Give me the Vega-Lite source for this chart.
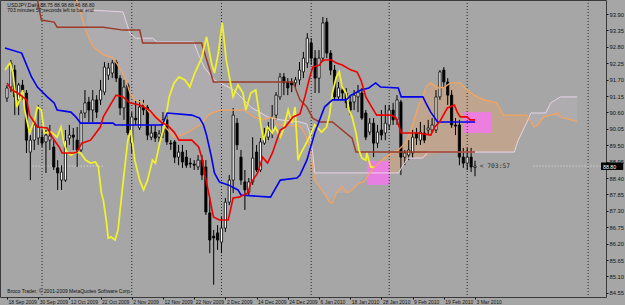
{
  "$schema": "https://vega.github.io/schema/vega-lite/v6.json",
  "width": 606,
  "height": 297,
  "autosize": {"type": "none"},
  "padding": {"left": 0, "top": 0, "right": 19, "bottom": 8},
  "background": "#a6a6a6",
  "config": {
    "view": {"fill": "#a6a6a6", "stroke": "#3a3a3a", "strokeWidth": 1},
    "axis": {"grid": false, "domain": false, "title": null, "labelFont": "Liberation Sans", "labelColor": "#151515", "tickColor": "#151515", "tickSize": 2, "labelOverlap": false, "labelBound": false, "labelFlush": false},
    "axisY": {"labelOverlap": false, "labelFontSize": 5.8, "labelPadding": 1},
    "axisX": {"labelOverlap": false, "labelFontSize": 5, "labelPadding": 0}
  },
  "datasets": {
    "candles": [
      {"i":0,"o":91.08,"h":91.52,"l":90.95,"c":91.42},{"i":1,"o":91.45,"h":92.36,"l":91.28,"c":92.26},{"i":2,"o":92.02,"h":92.19,"l":90.51,"c":91.12},{"i":3,"o":91.02,"h":91.59,"l":90.51,"c":91.52},{"i":4,"o":91.52,"h":91.69,"l":91.02,"c":91.28},
      {"i":5,"o":91.25,"h":91.35,"l":89.24,"c":89.67},{"i":6,"o":89.27,"h":89.84,"l":88.33,"c":89.67},{"i":7,"o":89.67,"h":90.35,"l":89.34,"c":90.18},{"i":8,"o":89.74,"h":90.85,"l":89.51,"c":90.11},{"i":9,"o":89.77,"h":90.01,"l":89.44,"c":89.57},
      {"i":10,"o":89.61,"h":90.01,"l":88.57,"c":89.84},{"i":11,"o":89.67,"h":90.18,"l":89.34,"c":89.81},{"i":12,"o":89.44,"h":89.67,"l":88.67,"c":88.77},{"i":13,"o":88.74,"h":89.0,"l":88.0,"c":88.57},{"i":14,"o":88.33,"h":88.83,"l":88.0,"c":88.6},
      {"i":15,"o":88.33,"h":90.01,"l":88.27,"c":89.67},{"i":16,"o":89.74,"h":90.18,"l":89.51,"c":89.84},{"i":17,"o":89.84,"h":90.08,"l":89.34,"c":89.77},{"i":18,"o":89.67,"h":90.11,"l":88.77,"c":89.34},{"i":19,"o":89.34,"h":90.68,"l":89.27,"c":90.58},
      {"i":20,"o":90.58,"h":91.35,"l":90.41,"c":90.92},{"i":21,"o":90.95,"h":91.12,"l":90.28,"c":90.68},{"i":22,"o":90.68,"h":91.35,"l":90.28,"c":91.02},{"i":23,"o":91.02,"h":91.18,"l":90.41,"c":90.61},{"i":24,"o":91.02,"h":91.69,"l":90.85,"c":91.35},
      {"i":25,"o":91.28,"h":92.29,"l":91.18,"c":92.12},{"i":26,"o":91.85,"h":92.26,"l":91.69,"c":92.09},{"i":27,"o":91.92,"h":92.36,"l":91.75,"c":92.26},{"i":28,"o":92.29,"h":92.36,"l":91.62,"c":91.75},{"i":29,"o":91.75,"h":91.85,"l":90.51,"c":90.75},
      {"i":30,"o":90.75,"h":91.69,"l":90.35,"c":91.45},{"i":31,"o":91.52,"h":91.59,"l":89.84,"c":89.91},{"i":32,"o":89.57,"h":90.61,"l":89.24,"c":90.45},{"i":33,"o":90.41,"h":91.02,"l":90.18,"c":90.35},{"i":34,"o":90.08,"h":91.02,"l":90.01,"c":90.78},
      {"i":35,"o":90.85,"h":91.02,"l":90.51,"c":90.68},{"i":36,"o":90.78,"h":90.85,"l":89.67,"c":89.84},{"i":37,"o":89.77,"h":90.18,"l":89.67,"c":89.91},{"i":38,"o":89.94,"h":90.18,"l":89.61,"c":89.74},{"i":39,"o":89.77,"h":90.01,"l":89.61,"c":89.88},
      {"i":40,"o":89.91,"h":90.61,"l":89.74,"c":90.35},{"i":41,"o":90.35,"h":90.51,"l":89.51,"c":89.61},{"i":42,"o":89.57,"h":89.67,"l":89.34,"c":89.54},{"i":43,"o":89.61,"h":89.67,"l":88.9,"c":89.1},{"i":44,"o":89.1,"h":89.51,"l":88.83,"c":89.27},
      {"i":45,"o":89.27,"h":89.51,"l":88.74,"c":88.94},{"i":46,"o":89.1,"h":89.34,"l":88.74,"c":88.83},{"i":47,"o":88.9,"h":89.07,"l":88.74,"c":88.87},{"i":48,"o":88.87,"h":89.0,"l":88.67,"c":88.83},{"i":49,"o":88.77,"h":89.17,"l":88.67,"c":89.0},
      {"i":50,"o":89.0,"h":89.17,"l":88.33,"c":88.5},{"i":51,"o":88.77,"h":89.0,"l":87.16,"c":87.26},{"i":52,"o":87.23,"h":87.76,"l":85.88,"c":86.32},{"i":53,"o":86.45,"h":86.66,"l":84.82,"c":86.39},{"i":54,"o":86.56,"h":86.82,"l":85.99,"c":86.32},
      {"i":55,"o":86.25,"h":87.09,"l":85.88,"c":86.72},{"i":56,"o":86.72,"h":87.73,"l":86.59,"c":87.59},{"i":57,"o":87.59,"h":88.5,"l":87.49,"c":88.33},{"i":58,"o":88.33,"h":90.75,"l":87.9,"c":90.51},{"i":59,"o":90.24,"h":90.41,"l":89.34,"c":89.51},
      {"i":60,"o":89.1,"h":89.34,"l":88.17,"c":88.33},{"i":61,"o":88.27,"h":88.67,"l":87.33,"c":88.0},{"i":62,"o":87.93,"h":88.4,"l":87.83,"c":88.27},{"i":63,"o":88.27,"h":89.77,"l":88.17,"c":89.07},{"i":64,"o":89.27,"h":89.51,"l":88.6,"c":88.67},
      {"i":65,"o":88.67,"h":89.74,"l":88.6,"c":89.61},{"i":66,"o":89.57,"h":90.08,"l":89.51,"c":89.84},{"i":67,"o":89.77,"h":90.28,"l":89.67,"c":90.01},{"i":68,"o":89.91,"h":90.85,"l":89.74,"c":90.45},{"i":69,"o":90.51,"h":91.28,"l":90.35,"c":91.18},
      {"i":70,"o":91.12,"h":91.92,"l":91.02,"c":91.79},{"i":71,"o":91.79,"h":91.92,"l":91.18,"c":91.59},{"i":72,"o":91.62,"h":91.75,"l":91.18,"c":91.42},{"i":73,"o":91.62,"h":91.75,"l":91.28,"c":91.52},{"i":74,"o":91.59,"h":91.79,"l":91.45,"c":91.69},
      {"i":75,"o":91.69,"h":92.29,"l":91.52,"c":92.02},{"i":76,"o":91.96,"h":92.63,"l":91.75,"c":92.42},{"i":77,"o":92.26,"h":93.26,"l":92.09,"c":93.09},{"i":78,"o":92.93,"h":93.09,"l":92.19,"c":92.42},{"i":79,"o":92.42,"h":92.69,"l":91.25,"c":91.75},
      {"i":80,"o":91.75,"h":92.69,"l":91.25,"c":92.42},{"i":81,"o":92.42,"h":93.8,"l":92.29,"c":93.6},{"i":82,"o":93.63,"h":93.77,"l":92.42,"c":92.59},{"i":83,"o":92.59,"h":92.69,"l":91.85,"c":92.02},{"i":84,"o":92.02,"h":92.19,"l":91.02,"c":91.12},
      {"i":85,"o":91.12,"h":91.62,"l":91.02,"c":91.42},{"i":86,"o":91.35,"h":91.52,"l":91.02,"c":91.25},{"i":87,"o":91.25,"h":91.42,"l":90.75,"c":90.92},{"i":88,"o":90.95,"h":91.18,"l":90.51,"c":90.68},{"i":89,"o":90.95,"h":91.35,"l":90.68,"c":91.18},
      {"i":90,"o":91.12,"h":91.52,"l":90.61,"c":91.28},{"i":91,"o":91.25,"h":91.42,"l":90.35,"c":90.41},{"i":92,"o":90.58,"h":90.68,"l":89.67,"c":89.77},{"i":93,"o":89.94,"h":90.41,"l":89.84,"c":90.24},{"i":94,"o":90.24,"h":90.41,"l":89.1,"c":89.57},
      {"i":95,"o":89.57,"h":90.18,"l":89.41,"c":89.94},{"i":96,"o":90.01,"h":90.68,"l":89.67,"c":89.84},{"i":97,"o":89.91,"h":90.85,"l":89.67,"c":90.24},{"i":98,"o":90.18,"h":90.85,"l":90.01,"c":90.68},{"i":99,"o":90.68,"h":90.92,"l":90.18,"c":90.35},
      {"i":100,"o":90.35,"h":91.18,"l":90.18,"c":91.02},{"i":101,"o":90.95,"h":91.02,"l":88.5,"c":89.1},{"i":102,"o":89.1,"h":89.34,"l":88.83,"c":89.24},{"i":103,"o":89.17,"h":89.67,"l":89.0,"c":89.34},{"i":104,"o":89.24,"h":90.01,"l":89.07,"c":89.77},
      {"i":105,"o":89.91,"h":90.08,"l":89.51,"c":89.74},{"i":106,"o":89.67,"h":90.28,"l":89.51,"c":89.94},{"i":107,"o":89.91,"h":90.18,"l":89.57,"c":89.67},{"i":108,"o":90.01,"h":90.35,"l":89.84,"c":90.08},{"i":109,"o":90.01,"h":90.41,"l":89.91,"c":90.18},
      {"i":110,"o":90.01,"h":91.35,"l":89.91,"c":91.12},{"i":111,"o":91.12,"h":92.02,"l":91.02,"c":91.96},{"i":112,"o":92.02,"h":92.12,"l":91.42,"c":91.62},{"i":113,"o":91.62,"h":91.75,"l":90.85,"c":91.18},{"i":114,"o":91.18,"h":91.35,"l":90.08,"c":90.18},
      {"i":115,"o":90.18,"h":90.41,"l":89.84,"c":90.14},{"i":116,"o":90.18,"h":90.35,"l":88.83,"c":89.1},{"i":117,"o":89.1,"h":89.41,"l":88.74,"c":88.9},{"i":118,"o":88.9,"h":89.41,"l":88.67,"c":89.1},{"i":119,"o":89.1,"h":89.41,"l":88.6,"c":88.77},
      {"i":120,"o":88.75,"h":88.98,"l":88.46,"c":88.8}
    ],
    "kijun": [
      {"i":-0.5,"v":92.76},{"i":3.78,"v":92.59},{"i":6.3,"v":91.79},{"i":7.81,"v":91.45},{"i":10.34,"v":91.12},{"i":12.1,"v":90.92},{"i":12.86,"v":90.68},{"i":16.39,"v":90.61},{"i":17.65,"v":90.45},{"i":18.9,"v":90.24},{"i":27.22,"v":90.24},{"i":27.73,"v":90.18},{"i":39.83,"v":90.18},{"i":41.09,"v":90.58},{"i":47.39,"v":90.51},{"i":49.4,"v":90.41},{"i":50.4,"v":90.18},{"i":51.17,"v":89.84},{"i":52.43,"v":89.1},{"i":53.19,"v":88.57},{"i":54.45,"v":88.27},{"i":56.72,"v":88.17},{"i":59.24,"v":88.0},{"i":59.99,"v":87.83},{"i":67.56,"v":87.76},{"i":70.08,"v":88.33},{"i":74.36,"v":88.4},{"i":75.12,"v":88.5},{"i":76.89,"v":89.0},{"i":78.91,"v":89.91},{"i":81.42,"v":90.78},{"i":83.44,"v":91.02},{"i":86.97,"v":91.02},{"i":88.23,"v":91.18},{"i":90.75,"v":91.35},{"i":92.76,"v":91.42},{"i":94.53,"v":91.59},{"i":95.79,"v":91.45},{"i":100.33,"v":91.42},{"i":101.08,"v":91.12},{"i":106.63,"v":91.12},{"i":107.39,"v":90.92},{"i":108.65,"v":90.61},{"i":110.41,"v":90.28},{"i":120,"v":90.28}
    ],
    "tenkan": [
      {"i":0,"v":91.59},{"i":1.26,"v":91.35},{"i":2.77,"v":91.25},{"i":5.04,"v":91.02},{"i":5.8,"v":90.51},{"i":7.81,"v":90.11},{"i":10.34,"v":90.08},{"i":11.6,"v":89.77},{"i":13.36,"v":89.44},{"i":14.12,"v":89.24},{"i":17.14,"v":89.24},{"i":17.9,"v":89.27},{"i":19.16,"v":89.57},{"i":21.43,"v":89.67},{"i":23.95,"v":90.11},{"i":24.7,"v":90.45},{"i":27.98,"v":91.18},{"i":29.75,"v":91.12},{"i":31.5,"v":90.92},{"i":34.03,"v":90.85},{"i":36.55,"v":90.68},{"i":38.06,"v":90.45},{"i":39.83,"v":90.24},{"i":41.09,"v":90.18},{"i":42.85,"v":89.94},{"i":44.11,"v":89.67},{"i":47.39,"v":89.67},{"i":49.15,"v":89.44},{"i":49.91,"v":89.1},{"i":50.67,"v":88.57},{"i":51.93,"v":87.76},{"i":52.94,"v":87.09},{"i":54.45,"v":86.99},{"i":56.72,"v":86.99},{"i":57.98,"v":87.73},{"i":59.49,"v":87.76},{"i":61.76,"v":87.9},{"i":62.52,"v":88.23},{"i":64.28,"v":88.57},{"i":65.54,"v":89.1},{"i":66.8,"v":88.9},{"i":68.06,"v":89.24},{"i":70.08,"v":90.01},{"i":71.34,"v":90.11},{"i":73.35,"v":90.45},{"i":75.12,"v":90.55},{"i":76.38,"v":91.12},{"i":77.64,"v":91.79},{"i":78.4,"v":92.12},{"i":80.16,"v":92.19},{"i":80.92,"v":92.36},{"i":83.19,"v":92.36},{"i":84.45,"v":92.26},{"i":85.96,"v":92.19},{"i":88.23,"v":92.02},{"i":89.74,"v":91.96},{"i":90.75,"v":91.69},{"i":92.01,"v":91.12},{"i":93.52,"v":90.78},{"i":94.78,"v":90.51},{"i":98.56,"v":90.51},{"i":99.8,"v":90.41},{"i":101.08,"v":89.91},{"i":105.37,"v":89.91},{"i":108.65,"v":89.84},{"i":109.66,"v":90.11},{"i":110.92,"v":90.28},{"i":112.93,"v":90.75},{"i":114.7,"v":90.85},{"i":115.45,"v":90.61},{"i":116.2,"v":90.45},{"i":117.97,"v":90.45},{"i":118.73,"v":90.35},{"i":120,"v":90.35}
    ],
    "chikou": [
      {"i":-0.5,"v":92.02},{"i":0.76,"v":92.26},{"i":1.51,"v":91.96},{"i":2.52,"v":90.78},{"i":3.28,"v":91.02},{"i":4.03,"v":91.35},{"i":4.54,"v":90.68},{"i":5.8,"v":89.91},{"i":7.06,"v":90.35},{"i":7.81,"v":90.78},{"i":8.82,"v":90.68},{"i":9.58,"v":89.91},{"i":11.34,"v":89.94},{"i":12.86,"v":89.77},{"i":13.86,"v":90.11},{"i":14.62,"v":89.57},{"i":15.38,"v":89.27},{"i":16.39,"v":89.17},{"i":17.65,"v":89.27},{"i":18.9,"v":89.24},{"i":20.17,"v":89.0},{"i":21.43,"v":88.9},{"i":22.69,"v":88.94},{"i":23.44,"v":88.77},{"i":24.2,"v":87.9},{"i":24.7,"v":87.66},{"i":25.46,"v":86.99},{"i":25.96,"v":86.39},{"i":26.72,"v":86.42},{"i":27.73,"v":86.32},{"i":28.48,"v":86.66},{"i":29.75,"v":88.23},{"i":31.0,"v":89.67},{"i":31.76,"v":90.01},{"i":32.77,"v":89.0},{"i":34.03,"v":88.33},{"i":35.04,"v":88.0},{"i":36.05,"v":88.33},{"i":37.31,"v":89.0},{"i":38.06,"v":88.9},{"i":39.32,"v":89.67},{"i":40.33,"v":90.11},{"i":41.59,"v":91.12},{"i":42.85,"v":91.59},{"i":44.11,"v":91.79},{"i":45.63,"v":91.69},{"i":46.89,"v":91.45},{"i":48.15,"v":91.92},{"i":49.91,"v":92.42},{"i":51.17,"v":93.13},{"i":52.43,"v":92.26},{"i":53.19,"v":91.92},{"i":54.2,"v":92.59},{"i":55.2,"v":93.6},{"i":56.22,"v":92.36},{"i":57.98,"v":91.12},{"i":59.24,"v":91.52},{"i":60.5,"v":91.25},{"i":61.25,"v":90.68},{"i":62.52,"v":91.25},{"i":63.78,"v":91.35},{"i":65.04,"v":90.24},{"i":65.79,"v":89.67},{"i":66.8,"v":90.11},{"i":68.06,"v":89.91},{"i":68.82,"v":90.11},{"i":70.08,"v":89.77},{"i":70.83,"v":90.01},{"i":72.09,"v":90.68},{"i":73.1,"v":90.24},{"i":73.86,"v":90.78},{"i":74.62,"v":89.0},{"i":75.12,"v":89.17},{"i":77.14,"v":89.67},{"i":78.15,"v":89.94},{"i":78.91,"v":90.18},{"i":79.66,"v":90.08},{"i":80.67,"v":89.94},{"i":81.92,"v":90.11},{"i":82.68,"v":90.51},{"i":83.44,"v":91.25},{"i":84.45,"v":91.79},{"i":85.2,"v":91.96},{"i":85.96,"v":91.45},{"i":86.97,"v":91.25},{"i":87.72,"v":90.68},{"i":88.48,"v":90.45},{"i":89.49,"v":89.91},{"i":90.24,"v":89.34},{"i":91.0,"v":89.07},{"i":92.01,"v":89.0},{"i":92.26,"v":89.24},{"i":93.27,"v":88.77},{"i":94.03,"v":88.77}
    ],
    "spanA": [
      {"i":15.9,"v":94.71},{"i":17.9,"v":94.37},{"i":20.42,"v":93.26},{"i":22.18,"v":92.79},{"i":24.7,"v":92.53},{"i":27.22,"v":92.42},{"i":29.24,"v":92.02},{"i":30.5,"v":91.69},{"i":31.5,"v":91.25},{"i":32.77,"v":91.02},{"i":34.79,"v":90.92},{"i":36.55,"v":90.58},{"i":39.07,"v":90.41},{"i":40.58,"v":90.11},{"i":42.85,"v":89.77},{"i":44.87,"v":89.84},{"i":47.39,"v":90.01},{"i":49.91,"v":90.21},{"i":51.67,"v":90.51},{"i":53.19,"v":90.61},{"i":54.95,"v":90.68},{"i":60.75,"v":90.68},{"i":63.27,"v":90.45},{"i":65.54,"v":90.35},{"i":67.05,"v":90.41},{"i":68.31,"v":90.45},{"i":69.32,"v":90.18},{"i":75.12,"v":90.14},{"i":76.38,"v":89.91},{"i":77.64,"v":89.44},{"i":78.4,"v":88.77},{"i":78.91,"v":88.33},{"i":80.16,"v":88.1},{"i":81.92,"v":87.76},{"i":82.68,"v":87.59},{"i":83.44,"v":87.56},{"i":84.45,"v":87.9},{"i":85.96,"v":88.1},{"i":87.22,"v":87.9},{"i":88.48,"v":88.0},{"i":90.24,"v":88.23},{"i":91.5,"v":88.27},{"i":93.52,"v":88.67},{"i":95.29,"v":88.9},{"i":97.05,"v":89.1},{"i":98.56,"v":89.24},{"i":100.33,"v":89.34},{"i":102.09,"v":89.57},{"i":103.6,"v":90.01},{"i":105.37,"v":90.78},{"i":106.63,"v":91.12},{"i":107.39,"v":91.45},{"i":108.65,"v":91.59},{"i":110.41,"v":91.42},{"i":112.18,"v":91.45},{"i":113.69,"v":91.59},{"i":116.2,"v":91.59},{"i":117.97,"v":91.35},{"i":119.74,"v":91.18},{"i":122.26,"v":91.02},{"i":125.53,"v":90.92},{"i":126.29,"v":90.75},{"i":127.3,"v":90.51},{"i":133.1,"v":90.51},{"i":133.85,"v":90.41},{"i":135.11,"v":90.11},{"i":136.12,"v":90.18},{"i":137.64,"v":90.45},{"i":139.4,"v":90.51},{"i":141.16,"v":90.58},{"i":142.42,"v":90.41},{"i":143.93,"v":90.38},{"i":146.2,"v":90.28}
    ],
    "spanB": [
      {"i":17.9,"v":94.04},{"i":20.42,"v":94.04},{"i":29.75,"v":93.97},{"i":31.5,"v":93.26},{"i":33.02,"v":93.09},{"i":37.31,"v":93.09},{"i":38.57,"v":92.96},{"i":47.89,"v":92.96},{"i":49.15,"v":92.53},{"i":50.67,"v":92.09},{"i":53.19,"v":91.69},{"i":58.23,"v":91.35},{"i":62.52,"v":90.78},{"i":66.8,"v":90.45},{"i":70.08,"v":90.35},{"i":75.12,"v":90.28},{"i":76.89,"v":90.21},{"i":77.64,"v":89.91},{"i":78.4,"v":89.24},{"i":78.91,"v":88.57},{"i":100.33,"v":88.57},{"i":101.58,"v":88.83},{"i":102.85,"v":89.07},{"i":106.63,"v":89.07},{"i":107.9,"v":89.27},{"i":130.07,"v":89.27},{"i":131.08,"v":89.67},{"i":132.34,"v":90.01},{"i":133.6,"v":90.35},{"i":134.36,"v":90.58},{"i":138.14,"v":90.58},{"i":139.4,"v":90.92},{"i":140.66,"v":91.02},{"i":141.92,"v":91.12},{"i":146.2,"v":91.12}
    ],
    "brown": [
      {"i":7.31,"v":94.71},{"i":8.82,"v":93.7},{"i":12.1,"v":93.63},{"i":12.86,"v":93.46},{"i":24.7,"v":93.46},{"i":29.75,"v":93.36},{"i":34.03,"v":93.36},{"i":34.79,"v":92.93},{"i":49.91,"v":92.93},{"i":52.94,"v":91.62},{"i":73.35,"v":91.62},{"i":75.12,"v":91.02},{"i":76.89,"v":90.78},{"i":78.4,"v":90.41},{"i":80.16,"v":90.28},{"i":83.44,"v":90.28},{"i":88.48,"v":89.74},{"i":89.49,"v":89.27},{"i":120,"v":89.27}
    ],
    "cloud": [
      {"i":20.42,"a":93.26,"b":94.04,"seg":1,"kind":"bear"},{"i":22.18,"a":92.79,"b":94.04,"seg":1,"kind":"bear"},{"i":24.7,"a":92.53,"b":94.0,"seg":1,"kind":"bear"},{"i":27.22,"a":92.42,"b":93.97,"seg":1,"kind":"bear"},{"i":29.75,"a":91.85,"b":93.97,"seg":1,"kind":"bear"},{"i":31.5,"a":91.25,"b":93.26,"seg":1,"kind":"bear"},{"i":33.02,"a":91.02,"b":93.09,"seg":1,"kind":"bear"},{"i":34.79,"a":90.92,"b":93.09,"seg":1,"kind":"bear"},{"i":36.55,"a":90.58,"b":93.09,"seg":1,"kind":"bear"},{"i":38.57,"a":90.45,"b":92.96,"seg":1,"kind":"bear"},{"i":40.58,"a":90.11,"b":92.96,"seg":1,"kind":"bear"},{"i":42.85,"a":89.77,"b":92.96,"seg":1,"kind":"bear"},{"i":44.87,"a":89.84,"b":92.96,"seg":1,"kind":"bear"},{"i":47.89,"a":90.08,"b":92.96,"seg":1,"kind":"bear"},{"i":49.91,"a":90.21,"b":92.29,"seg":1,"kind":"bear"},{"i":51.67,"a":90.51,"b":91.99,"seg":1,"kind":"bear"},{"i":53.19,"a":90.61,"b":91.69,"seg":1,"kind":"bear"},{"i":54.95,"a":90.68,"b":91.59,"seg":1,"kind":"bear"},{"i":58.23,"a":90.68,"b":91.35,"seg":1,"kind":"bear"},{"i":60.75,"a":90.68,"b":91.02,"seg":1,"kind":"bear"},{"i":62.52,"a":90.58,"b":90.78,"seg":1,"kind":"bear"},{"i":65.54,"a":90.35,"b":90.58,"seg":1,"kind":"bear"},{"i":68.31,"a":90.45,"b":90.41,"seg":1,"kind":"bear"},{"i":70.08,"a":90.18,"b":90.35,"seg":1,"kind":"bear"},{"i":75.12,"a":90.14,"b":90.28,"seg":1,"kind":"bear"},{"i":76.89,"a":89.98,"b":90.21,"seg":1,"kind":"bear"},{"i":77.64,"a":89.44,"b":89.91,"seg":1,"kind":"bear"},{"i":78.4,"a":88.77,"b":89.24,"seg":1,"kind":"bear"},{"i":78.91,"a":88.33,"b":88.57,"seg":1,"kind":"bear"},{"i":80.16,"a":88.1,"b":88.57,"seg":1,"kind":"bear"},{"i":82.68,"a":87.59,"b":88.57,"seg":1,"kind":"bear"},{"i":84.45,"a":87.9,"b":88.57,"seg":1,"kind":"bear"},{"i":87.22,"a":87.9,"b":88.57,"seg":1,"kind":"bear"},{"i":90.24,"a":88.23,"b":88.57,"seg":1,"kind":"bear"},{"i":93.02,"a":88.6,"b":88.57,"seg":1,"kind":"bear"},
      {"i":93.02,"a":88.6,"b":88.57,"seg":2,"kind":"bull"},{"i":95.29,"a":88.9,"b":88.57,"seg":2,"kind":"bull"},{"i":98.56,"a":89.24,"b":88.57,"seg":2,"kind":"bull"},{"i":100.33,"a":89.34,"b":88.57,"seg":2,"kind":"bull"},{"i":101.58,"a":89.51,"b":88.83,"seg":2,"kind":"bull"},{"i":102.85,"a":89.74,"b":89.07,"seg":2,"kind":"bull"},{"i":105.37,"a":90.78,"b":89.07,"seg":2,"kind":"bull"},{"i":106.63,"a":91.12,"b":89.07,"seg":2,"kind":"bull"},{"i":108.65,"a":91.59,"b":89.17,"seg":2,"kind":"bull"},{"i":112.18,"a":91.45,"b":89.27,"seg":2,"kind":"bull"},{"i":116.2,"a":91.59,"b":89.27,"seg":2,"kind":"bull"},{"i":119.74,"a":91.18,"b":89.27,"seg":2,"kind":"bull"},{"i":125.53,"a":90.92,"b":89.27,"seg":2,"kind":"bull"},{"i":127.3,"a":90.51,"b":89.27,"seg":2,"kind":"bull"},{"i":130.07,"a":90.51,"b":89.27,"seg":2,"kind":"bull"},{"i":132.34,"a":90.51,"b":90.01,"seg":2,"kind":"bull"},{"i":133.85,"a":90.41,"b":90.41,"seg":2,"kind":"bull"},
      {"i":133.85,"a":90.41,"b":90.41,"seg":3,"kind":"bear"},{"i":135.11,"a":90.11,"b":90.58,"seg":3,"kind":"bear"},{"i":137.64,"a":90.45,"b":90.58,"seg":3,"kind":"bear"},{"i":139.4,"a":90.51,"b":90.92,"seg":3,"kind":"bear"},{"i":141.92,"a":90.41,"b":91.12,"seg":3,"kind":"bear"},{"i":146.2,"a":90.28,"b":91.12,"seg":3,"kind":"bear"}
    ],
    "boxes": [
      {"i":92.26,"i2":98.06,"v":88.97,"v2":88.17},
      {"i":117.2,"i2":124.3,"v":90.61,"v2":89.91}
    ],
    "seps": [{"i":9},{"i":32},{"i":55},{"i":78},{"i":98},{"i":118},{"i":149}],
    "bid": [{"i":6.6,"i2":24.7,"v":88.8},{"i":135,"i2":152.3,"v":88.8}],
    "notes": [
      {"i":0.1,"v":94.21,"t":"USDJPY,Daily  88.75 88.98 88.46 88.80"},
      {"i":0.1,"v":94.04,"t":"703 minutes 57 seconds left to bar end"},
      {"i":0.1,"v":84.61,"t":"Broco Trader, © 2001-2009 MetaQuotes Software Corp."}
    ],
    "countdown": [{"i":121.2,"v":88.8,"t":"< 703:57"}],
    "tag": [{"i":152.3,"i2":158,"v":88.67,"v2":88.92,"m":88.78,"t":"88.80"}]
  },
  "encoding": {
    "x": {
      "field": "i", "type": "quantitative",
      "scale": {"domain": [-0.5, 152.3], "nice": false, "zero": false},
      "axis": {
        "orient": "bottom",
        "values": [0, 8, 16, 24, 32, 40, 48, 56, 64, 72, 80, 88, 96, 104, 112, 120],
        "labelExpr": "['18 Sep 2009','30 Sep 2009','12 Oct 2009','22 Oct 2009','2 Nov 2009','12 Nov 2009','22 Nov 2009','2 Dec 2009','14 Dec 2009','24 Dec 2009','6 Jan 2010','18 Jan 2010','28 Jan 2010','9 Feb 2010','19 Feb 2010','3 Mar 2010'][round(datum.value/8)]",
        "labelAlign": "left", "labelOffset": 1, "labelPadding": 0, "labelFontSize": 5,
        "labelOverlap": false, "labelBound": false, "labelFlush": false, "tickSize": 2
      }
    },
    "y": {
      "field": "v", "type": "quantitative",
      "scale": {"domain": [84.41, 94.37], "nice": false, "zero": false},
      "axis": {"orient": "right", "values": [84.55, 85.1, 85.65, 86.2, 86.75, 87.3, 87.85, 88.4, 88.95, 89.5, 90.05, 90.6, 91.15, 91.7, 92.25, 92.8, 93.35, 93.9], "format": ".2f", "labelFontSize": 5.8, "labelPadding": 1, "tickSize": 2, "labelOverlap": false, "labelBound": false, "labelFlush": false}
    }
  },
  "layer": [
    {
      "data": {"name": "cloud"},
      "mark": {"type": "area", "clip": true},
      "encoding": {
        "y": {"field": "a", "type": "quantitative", "scale": {"domain": [84.41, 94.37], "nice": false, "zero": false}, "axis": {"orient": "right", "values": [84.55, 85.1, 85.65, 86.2, 86.75, 87.3, 87.85, 88.4, 88.95, 89.5, 90.05, 90.6, 91.15, 91.7, 92.25, 92.8, 93.35, 93.9], "format": ".2f", "labelFontSize": 5.8, "labelPadding": 1, "tickSize": 2, "labelOverlap": false, "labelBound": false, "labelFlush": false}},
        "y2": {"field": "b"},
        "color": {"field": "kind", "type": "nominal", "scale": {"domain": ["bull", "bear"], "range": ["#f4a460", "#f2e6f2"]}, "legend": null},
        "opacity": {"field": "kind", "type": "nominal", "scale": {"domain": ["bull", "bear"], "range": [0.33, 0.11]}, "legend": null},
        "detail": {"field": "seg"}
      }
    },
    {
      "data": {"name": "boxes"},
      "mark": {"type": "rect", "color": "#f07ae8", "opacity": 0.9},
      "encoding": {
        "x2": {"field": "i2"},
        "y2": {"field": "v2"}
      }
    },
    {
      "data": {"name": "seps"},
      "mark": {"type": "rule", "color": "#2a2a2a", "strokeDash": [1, 2], "strokeWidth": 1},
      "encoding": {"y": null}
    },
    {
      "data": {"name": "bid"},
      "mark": {"type": "rule", "color": "#e6e6e6", "strokeDash": [1, 2], "strokeWidth": 1},
      "encoding": {"x2": {"field": "i2"}}
    },
    {
      "data": {"name": "candles"},
      "mark": {"type": "rule", "color": "#000000", "strokeWidth": 1, "clip": true},
      "encoding": {
        "y": {"field": "l", "type": "quantitative", "scale": {"domain": [84.41, 94.37], "nice": false, "zero": false}, "axis": {"orient": "right", "values": [84.55, 85.1, 85.65, 86.2, 86.75, 87.3, 87.85, 88.4, 88.95, 89.5, 90.05, 90.6, 91.15, 91.7, 92.25, 92.8, 93.35, 93.9], "format": ".2f", "labelFontSize": 5.8, "labelPadding": 1, "tickSize": 2, "labelOverlap": false, "labelBound": false, "labelFlush": false}},
        "y2": {"field": "h"}
      }
    },
    {
      "data": {"name": "candles"},
      "mark": {"type": "bar", "size": 2.2, "stroke": "#000000", "strokeWidth": 0.8, "clip": true},
      "encoding": {
        "y": {"field": "o", "type": "quantitative", "scale": {"domain": [84.41, 94.37], "nice": false, "zero": false}, "axis": {"orient": "right", "values": [84.55, 85.1, 85.65, 86.2, 86.75, 87.3, 87.85, 88.4, 88.95, 89.5, 90.05, 90.6, 91.15, 91.7, 92.25, 92.8, 93.35, 93.9], "format": ".2f", "labelFontSize": 5.8, "labelPadding": 1, "tickSize": 2, "labelOverlap": false, "labelBound": false, "labelFlush": false}},
        "y2": {"field": "c"},
        "fill": {"condition": {"test": "datum.c >= datum.o", "value": "#ffffff"}, "value": "#000000"}
      }
    },
    {
      "data": {"name": "spanB"},
      "mark": {"type": "line", "color": "#e8d4e8", "strokeWidth": 1, "clip": true}
    },
    {
      "data": {"name": "spanA"},
      "mark": {"type": "line", "color": "#f4a460", "strokeWidth": 1.3, "clip": true}
    },
    {
      "data": {"name": "brown"},
      "mark": {"type": "line", "color": "#9c3b2a", "strokeWidth": 1.5, "clip": true}
    },
    {
      "data": {"name": "chikou"},
      "mark": {"type": "line", "color": "#f0f030", "strokeWidth": 1.8, "clip": true}
    },
    {
      "data": {"name": "kijun"},
      "mark": {"type": "line", "color": "#0000ee", "strokeWidth": 1.6, "clip": true}
    },
    {
      "data": {"name": "tenkan"},
      "mark": {"type": "line", "color": "#ee0000", "strokeWidth": 1.6, "clip": true}
    },
    {
      "data": {"name": "notes"},
      "mark": {"type": "text", "align": "left", "baseline": "middle", "font": "Liberation Sans", "fontSize": 5, "color": "#111111"},
      "encoding": {"text": {"field": "t"}}
    },
    {
      "data": {"name": "countdown"},
      "mark": {"type": "text", "align": "left", "baseline": "middle", "font": "DejaVu Sans Mono", "fontSize": 6.3, "color": "#2a2a2a"},
      "encoding": {"text": {"field": "t"}}
    },
    {
      "data": {"name": "tag"},
      "mark": {"type": "rect", "color": "#000000", "clip": false},
      "encoding": {
        "x2": {"field": "i2"},
        "y2": {"field": "v2"}
      }
    },
    {
      "data": {"name": "tag"},
      "mark": {"type": "text", "align": "left", "baseline": "middle", "dx": 2, "font": "Liberation Sans", "fontSize": 5.3, "color": "#ffffff", "clip": false},
      "encoding": {
        "y": {"field": "m", "type": "quantitative", "scale": {"domain": [84.41, 94.37], "nice": false, "zero": false}, "axis": {"orient": "right", "values": [84.55, 85.1, 85.65, 86.2, 86.75, 87.3, 87.85, 88.4, 88.95, 89.5, 90.05, 90.6, 91.15, 91.7, 92.25, 92.8, 93.35, 93.9], "format": ".2f", "labelFontSize": 5.8, "labelPadding": 1, "tickSize": 2, "labelOverlap": false, "labelBound": false, "labelFlush": false}},
        "text": {"field": "t"}
      }
    }
  ]
}
